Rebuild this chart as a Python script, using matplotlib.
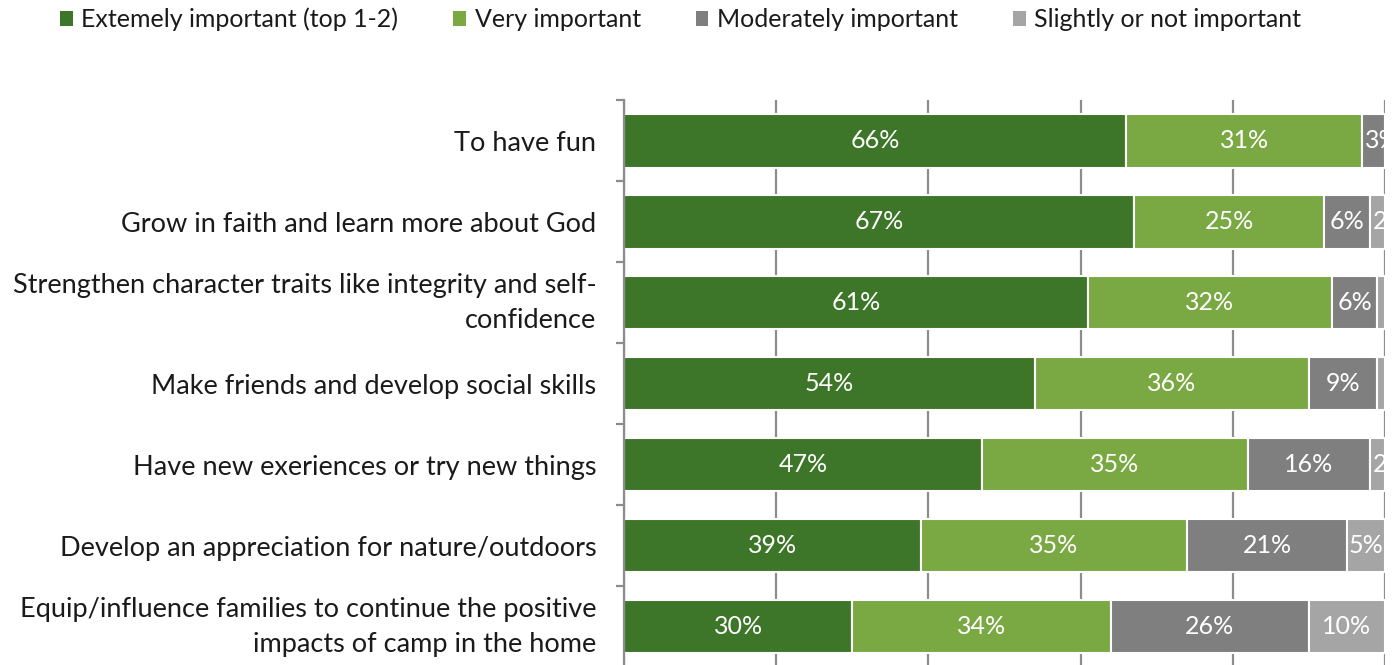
import numpy as np
import matplotlib
matplotlib.use("Agg")
import matplotlib.pyplot as plt
from matplotlib.patches import Patch

plt.rcParams["font.family"] = ["Lato", "DejaVu Sans"]

# ---------------------------------------------------------------------------
# Survey data (percent of respondents)
# ---------------------------------------------------------------------------
categories = [
    "To have fun",
    "Grow in faith and learn more about God",
    "Strengthen character traits like integrity and self-\nconfidence",
    "Make friends and develop social skills",
    "Have new exeriences or try new things",
    "Develop an appreciation for nature/outdoors",
    "Equip/influence families to continue the positive\nimpacts of camp in the home",
]
extremely = [66, 67, 61, 54, 47, 39, 30]
very = [31, 25, 32, 36, 35, 35, 34]
moderately = [3, 6, 6, 9, 16, 21, 26]
slightly = [0, 2, 1, 1, 2, 5, 10]

series_names = [
    "Extemely important (top 1-2)",
    "Very important",
    "Moderately important",
    "Slightly or not important",
]
colors = ["#3D7629", "#7AA843", "#7F7F7F", "#A5A5A5"]

# ---------------------------------------------------------------------------
# Figure
# ---------------------------------------------------------------------------
fig = plt.figure(figsize=(13.98, 6.65), dpi=100)
ax = fig.add_axes([0.4464, -0.003, 0.5443, 0.852])

y = np.arange(len(categories))
left = np.zeros(len(categories))
for values, color in zip([extremely, very, moderately, slightly], colors):
    vals = np.array(values, dtype=float)
    ax.barh(y, vals, left=left, height=0.66, color=color,
            edgecolor="white", linewidth=1.5, zorder=2)
    for yi, l, v in zip(y, left, vals):
        if v < 2:
            continue
        if v <= 3:
            # too narrow for the label: start it at the segment edge
            ax.text(l + 0.4, yi, f"{int(v)}%", ha="left", va="center",
                    color="white", fontsize=18, clip_on=True, zorder=3)
        else:
            ax.text(l + v / 2, yi, f"{int(v)}%", ha="center", va="center",
                    color="white", fontsize=18, clip_on=True, zorder=3)
    left += vals

ax.set_xlim(0, 100)
ax.set_ylim(len(categories) - 0.5, -0.5)

# vertical gridlines behind the bars
ax.set_xticks(np.arange(0, 101, 20))
ax.xaxis.grid(True, color="#8C8C8C", linewidth=1.6, zorder=0)
ax.set_axisbelow(True)
ax.tick_params(axis="x", length=0, labelbottom=False)

# category labels, with tick marks between categories
ax.set_yticks(y)
ax.set_yticklabels(categories, fontsize=19.5, color="#1A1A1A", linespacing=1.5)
ax.set_yticks(np.arange(-0.5, len(categories), 1), minor=True)
ax.tick_params(axis="y", which="major", length=0, pad=20)
ax.tick_params(axis="y", which="minor", length=6, width=1.6, color="#8C8C8C")
for lbl in ax.get_yticklabels():
    lbl.set_horizontalalignment("right")
    lbl.set_multialignment("right")
    if "\n" in lbl.get_text():
        lbl.set_verticalalignment("center")

for side in ["top", "right", "bottom"]:
    ax.spines[side].set_visible(False)
ax.spines["left"].set_color("#8C8C8C")
ax.spines["left"].set_linewidth(1.6)

handles = [Patch(facecolor=c, edgecolor="none") for c in colors]
fig.legend(handles, series_names, loc="upper left", ncol=4,
           bbox_to_anchor=(0.027, 1.022), frameon=False, fontsize=18,
           handlelength=0.5, handleheight=0.5, handletextpad=0.35,
           columnspacing=2.2, labelcolor="#1A1A1A")

fig.savefig("out.png", dpi=100)
